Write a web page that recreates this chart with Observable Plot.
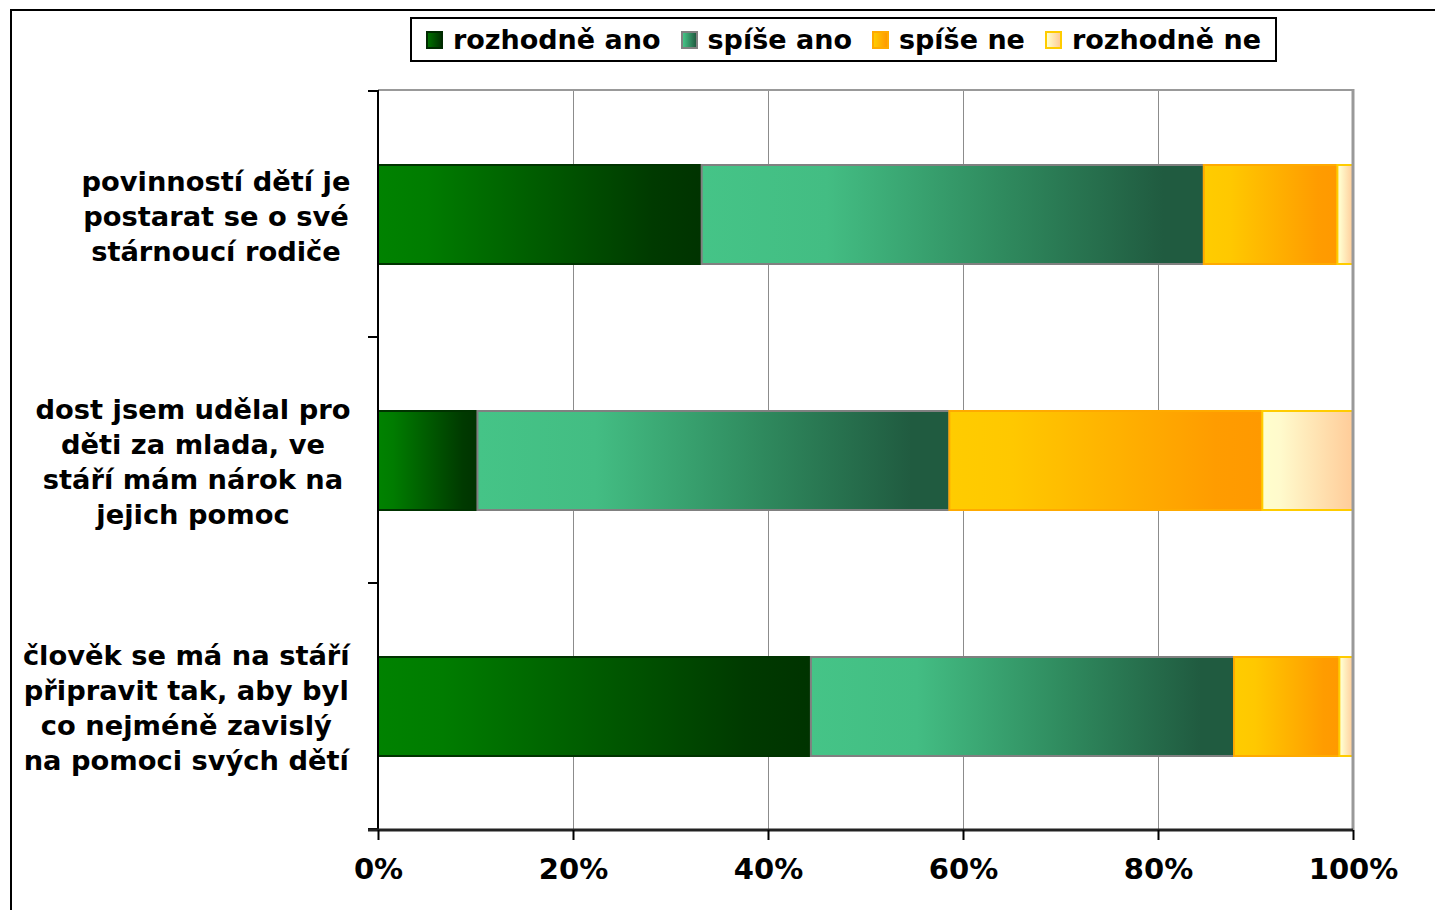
<!DOCTYPE html>
<html><head><meta charset="utf-8">
<script src="https://cdn.jsdelivr.net/npm/d3@7"></script>
<script src="https://cdn.jsdelivr.net/npm/@observablehq/plot@0.6"></script>
<style>
html,body{margin:0;padding:0;background:#fff;width:1435px;height:910px;overflow:hidden;font-family:"DejaVu Sans",Verdana,sans-serif;}
#frame{position:absolute;left:10px;top:9px;width:1500px;height:1000px;border:2px solid #000;box-sizing:border-box}
#legend{position:absolute;left:410px;top:17px;width:867px;height:45px;border:2px solid #000;box-sizing:border-box;display:flex;align-items:center;justify-content:center;gap:20px;font-weight:bold;font-size:27px;background:#fff;color:#000}
.item{display:flex;align-items:center;white-space:nowrap}
.sw{width:17px;height:18px;box-sizing:border-box;border:2px solid;margin-right:10px}
#chart{position:absolute;left:0;top:0}
</style></head><body>
<div id="frame"></div>
<div id="chart"></div>
<div id="legend"></div>
<script>
const categories = [
  "povinností dětí je\npostarat se o své\nstárnoucí rodiče",
  "dost jsem udělal pro\nděti za mlada, ve\nstáří mám nárok na\njejich pomoc",
  "člověk se má na stáří\npřipravit tak, aby byl\nco nejméně zavislý\nna pomoci svých dětí"
];
const series = ["rozhodně ano", "spíše ano", "spíše ne", "rozhodně ne"];
const rozhodneAno = [33.2, 10.2, 44.4];
const spiseAno = [51.5, 48.4, 43.4];
const spiseNe = [13.7, 32.1, 10.8];
const rozhodneNe = [1.6, 9.3, 1.4];
const xTicks = [0, 20, 40, 60, 80, 100];

const seriesValues = [rozhodneAno, spiseAno, spiseNe, rozhodneNe];
const gradIds = ["g-ra", "g-sa", "g-sn", "g-rn"];
const gradStops = [
  [[0, "#008200"], [0.15, "#007c00"], [0.85, "#003a00"], [1, "#003300"]],
  [[0, "#45c487"], [0.25, "#43bd83"], [0.6, "#2f8a5e"], [0.92, "#205b40"], [1, "#205b40"]],
  [[0, "#ffcc00"], [0.2, "#ffc800"], [0.85, "#ff9c00"], [1, "#ff9900"]],
  [[0, "#ffffcc"], [0.2, "#fffacc"], [1, "#ffcc99"]]
];
const strokes = ["#003300", "#808080", "#ffaa00", "#ffcc00"];

// stacked rows
const rows = [];
categories.forEach((c, i) => {
  let acc = 0;
  seriesValues.forEach((v, s) => {
    rows.push({category: c, series: series[s], x1: acc, x2: acc + v[i]});
    acc += v[i];
  });
});

const NS = "http://www.w3.org/2000/svg";
function el(name, attrs) {
  const e = document.createElementNS(NS, name);
  for (const k in attrs) e.setAttribute(k, attrs[k]);
  return e;
}

function defsMark() {
  const defs = el("defs", {});
  gradIds.forEach((id, i) => {
    const g = el("linearGradient", {id, x1: "0", y1: "0", x2: "1", y2: "0"});
    gradStops[i].forEach(([o, c]) => g.appendChild(el("stop", {offset: o, "stop-color": c})));
    defs.appendChild(g);
  });
  return defs;
}

function decorations(index, scales, values, dimensions) {
  const {width, height, marginTop, marginRight, marginBottom, marginLeft} = dimensions;
  const g = el("g", {});
  const right = width - marginRight, bottom = height - marginBottom;
  // top and right gray frame
  g.appendChild(el("line", {x1: marginLeft, x2: right, y1: marginTop, y2: marginTop, stroke: "#999", "stroke-width": 2}));
  g.appendChild(el("line", {x1: right, x2: right, y1: marginTop - 1, y2: bottom, stroke: "#999", "stroke-width": 3}));
  // y axis line
  g.appendChild(el("line", {x1: marginLeft, x2: marginLeft, y1: marginTop, y2: bottom, stroke: "#000", "stroke-width": 2}));
  // band boundary ticks
  const y = scales.y;
  const bw = y.bandwidth ? y.bandwidth() : scales.scales.y.bandwidth;
  const ys = new Set();
  categories.forEach(c => { ys.add(y(c)); ys.add(y(c) + bw); });
  for (const yy of ys) g.appendChild(el("line", {x1: marginLeft - 10, x2: marginLeft, y1: yy, y2: yy, stroke: "#000", "stroke-width": 2}));
  // x axis line
  g.appendChild(el("line", {x1: marginLeft - 10, x2: right, y1: bottom, y2: bottom, stroke: "#222", "stroke-width": 3}));
  return g;
}

const barMarks = series.map((s, i) => Plot.barX(rows.filter(d => d.series === s), {
  x1: "x1", x2: "x2", y: "category",
  fill: `url(#${gradIds[i]})`, stroke: strokes[i], strokeWidth: 2,
  insetTop: 74, insetBottom: 73
}));

const chart = Plot.plot({
  width: 1435, height: 910,
  marginTop: 90, marginRight: 82, marginBottom: 80, marginLeft: 378,
  style: {fontFamily: "'DejaVu Sans', Verdana, sans-serif", color: "#000", background: "transparent", overflow: "visible"},
  x: {domain: [0, 100], label: null},
  y: {domain: categories, padding: 0, label: null},
  marks: [
    defsMark,
    Plot.ruleX(xTicks.slice(1, -1), {stroke: "#8c8c8c", strokeWidth: 1}),
    ...barMarks,
    decorations,
    Plot.axisX({ticks: xTicks, tickFormat: d => d + "%", tickSize: 10, tickPadding: 18, fontSize: 29, fontWeight: "bold", stroke: "#000", strokeWidth: 2, label: null}),
    Plot.axisY({tickSize: 0, tickPadding: 28, fontSize: 27.3, fontWeight: "bold", lineHeight: 1.28, label: null})
  ]
});
document.getElementById("chart").appendChild(chart);

// center each multi-line category label within its own block
chart.querySelectorAll('[aria-label="y-axis tick label"] text').forEach(t => {
  const w = t.getBBox().width;
  t.setAttribute("text-anchor", "middle");
  const tspans = t.querySelectorAll("tspan");
  if (tspans.length) tspans.forEach(ts => ts.setAttribute("x", -w / 2));
  else t.setAttribute("x", -w / 2);
});

// legend
const swatchCss = [
  "background:linear-gradient(90deg,#007000,#003300);border-color:#002a00",
  "background:linear-gradient(90deg,#45c487,#205b40);border-color:#808080",
  "background:linear-gradient(90deg,#ffcc00,#ff9900);border-color:#ffaa00",
  "background:linear-gradient(90deg,#ffffcc,#ffcc99);border-color:#ffcc00"
];
const legend = document.getElementById("legend");
series.forEach((s, i) => {
  const item = document.createElement("div");
  item.className = "item";
  const sw = document.createElement("span");
  sw.className = "sw";
  sw.style.cssText = swatchCss[i];
  item.appendChild(sw);
  item.appendChild(document.createTextNode(s));
  legend.appendChild(item);
});
</script>
</body></html>
